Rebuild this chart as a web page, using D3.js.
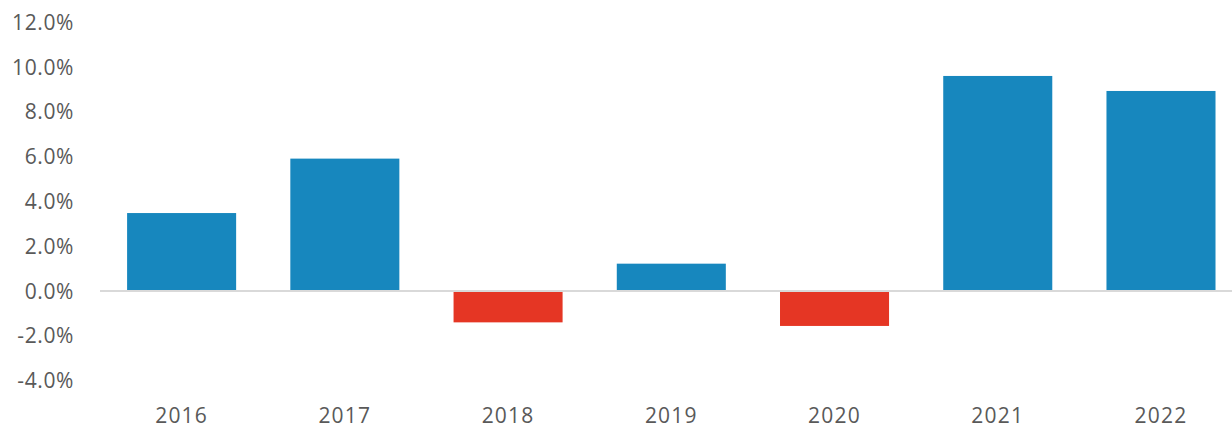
<!DOCTYPE html>
<html>
<head>
<meta charset="utf-8">
<script src="https://cdn.jsdelivr.net/npm/d3@7"></script>
<style>
  body { margin: 0; background: #fff; }
  text { font-family: 'Open Sans', sans-serif; fill: #595959; }
</style>
</head>
<body>
<div id="chart"></div>
<script>

var years = ['2016', '2017', '2018', '2019', '2020', '2021', '2022'];
var growth = [3.48, 5.91, -1.40, 1.22, -1.56, 9.60, 8.93];
var yTicks = [-4, -2, 0, 2, 4, 6, 8, 10, 12];

var width = 1232, height = 428;

var svg = d3.select('#chart')
				.append('svg')
					.attr('width', width)
					.attr('height', height);

// the plot runs a bit past the right edge in the original
var x = d3.scaleBand()
			.domain(years)
			.range([100, 1242.6])
			.paddingInner(0.332)
			.paddingOuter(0.166);

var y = d3.scaleLinear()
			.domain([-4, 12])
			.range([380.6, 22.2]);

// y labels
svg.selectAll('.ylab')
	.data(yTicks)
	.enter().append('text')
		.attr('class', 'ylab')
		.attr('x', 74)
		.attr('y', function(d) { return y(d); })
		.attr('dy', '0.36em')
		.attr('text-anchor', 'end')
		.style('font-size', '21px')
		.style('letter-spacing', '0.6px')
		.text(function(d) { return d.toFixed(1) + '%'; });

// bars
svg.selectAll('.bar')
	.data(growth)
	.enter().append('rect')
		.attr('class', 'bar')
		.attr('x', function(d, i) { return x(years[i]); })
		.attr('width', x.bandwidth())
		.attr('y', function(d) { return y(Math.max(0, d)); })
		.attr('height', function(d) { return Math.abs(y(d) - y(0)); })
		.style('fill', function(d) { return d < 0 ? '#e53624' : '#1787be'; });

// zero line
svg.append('line')
	.attr('x1', 100)
	.attr('x2', width)
	.attr('y1', y(0))
	.attr('y2', y(0))
	.style('stroke', '#d9d9d9')
	.style('stroke-width', 2);

// x labels
svg.selectAll('.xlab')
	.data(years)
	.enter().append('text')
		.attr('class', 'xlab')
		.attr('x', function(d) { return x(d) + x.bandwidth() / 2; })
		.attr('y', 423)
		.attr('text-anchor', 'middle')
		.style('font-size', '21px')
		.style('letter-spacing', '1.2px')
		.text(function(d) { return d; });

</script>
</body>
</html>
